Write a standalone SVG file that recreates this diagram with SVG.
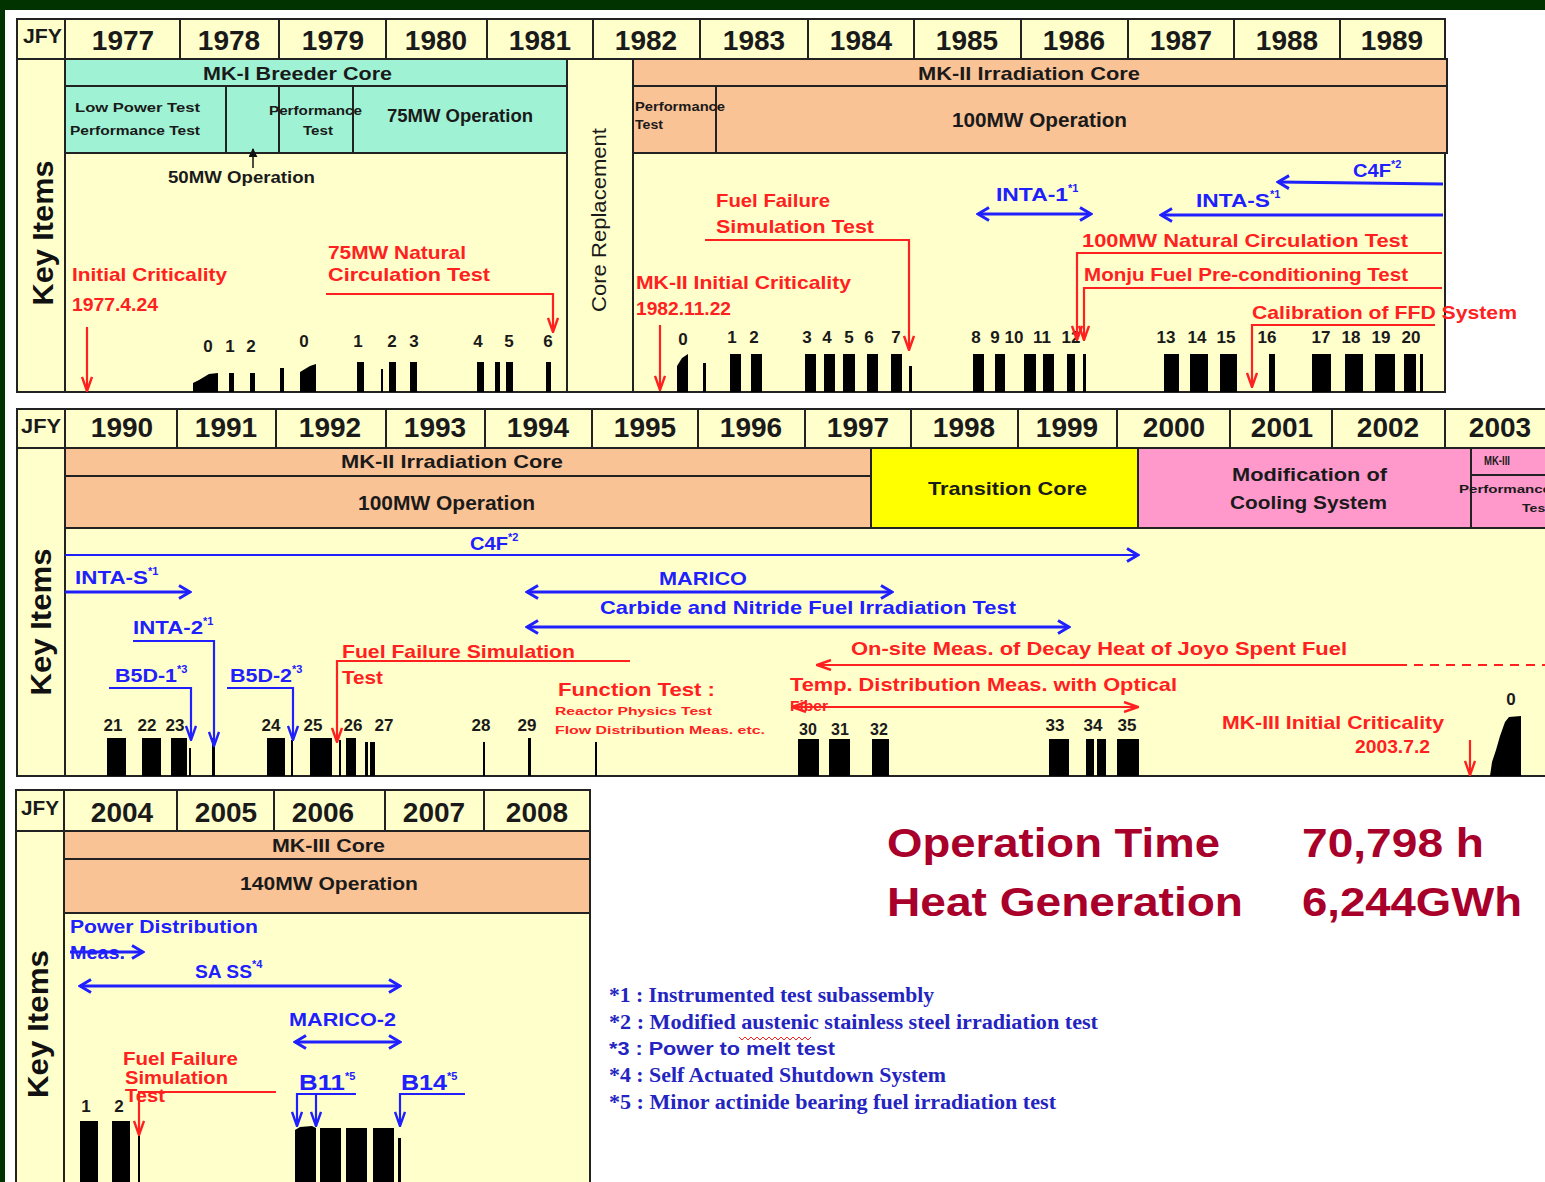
<svg xmlns="http://www.w3.org/2000/svg" width="1545" height="1182" viewBox="0 0 1545 1182">
<style>
text{font-family:"Liberation Sans",Arial,sans-serif;font-weight:bold}
.yr{font-size:28px;fill:#1a1a1a;text-anchor:middle}
.jfy{font-size:20px;fill:#1a1a1a}
.lb{font-size:19px;fill:#1a1a1a}
.sm{font-size:12px;fill:#1a1a1a}
.r{font-size:19px;fill:#ff2020}
.b{font-size:19px;fill:#2020ff}
.sup{font-size:11px}
.n{font-size:17px;fill:#1a1a1a;text-anchor:middle}
.ki{font-size:30px;fill:#111;text-anchor:middle}
.big{font-size:40px;fill:#a8002a}
.fn{font-family:"Liberation Serif","Times New Roman",serif;font-size:20px;fill:#2424c0}
.fns{font-size:19px;fill:#2424c0}
.cream{fill:#ffffcc;stroke:#222;stroke-width:2}
.cy{fill:#9ff3d4;stroke:#222;stroke-width:2}
.or{fill:#fac395;stroke:#222;stroke-width:2}
.sep{stroke:#222;stroke-width:2;fill:none}
.bar{fill:#000}
.lr{stroke:#ff2020;stroke-width:2.2;fill:none}
.lbl{stroke:#2020ff;stroke-width:3;fill:none}
.lbt{stroke:#2020ff;stroke-width:2.2;fill:none}
</style>
<defs>
<marker id="ab" viewBox="0 0 16 16" refX="14" refY="8" markerWidth="16" markerHeight="16" markerUnits="userSpaceOnUse" orient="auto-start-reverse"><path d="M3,1.5 L14,8 L3,14.5" fill="none" stroke="#2020ff" stroke-width="3"/></marker>
<marker id="abs" viewBox="0 0 16 12" refX="15" refY="6" markerWidth="16" markerHeight="12" markerUnits="userSpaceOnUse" orient="auto-start-reverse"><path d="M1,1 L15,6 L1,11" fill="none" stroke="#2020ff" stroke-width="2.4"/></marker>
<marker id="ar" viewBox="0 0 16 12" refX="15" refY="6" markerWidth="16" markerHeight="12" markerUnits="userSpaceOnUse" orient="auto-start-reverse"><path d="M1,1 L15,6 L1,11" fill="none" stroke="#ff2020" stroke-width="2.4"/></marker>
<marker id="ak" viewBox="0 0 10 10" refX="9" refY="5" markerWidth="9" markerHeight="9" markerUnits="userSpaceOnUse" orient="auto"><path d="M0,0 L10,5 L0,10 Z" fill="#111"/></marker>
</defs>

<rect x="0" y="0" width="1545" height="1182" fill="#013301"/>
<rect x="5" y="10" width="1540" height="1172" fill="#ffffff"/>

<!-- ============ PANEL 1 ============ -->
<g id="panel1">
  <rect class="cream" x="17" y="19" width="1428" height="40"/>
  <rect class="cream" x="17" y="59" width="1428" height="333"/>
  <path class="sep" d="M65,19V392 M180,19V59 M279,19V59 M386,19V59 M487,19V59 M593,19V59 M700,19V59 M808,19V59 M914,19V59 M1021,19V59 M1128,19V59 M1234,19V59 M1340,19V59"/>
  <text class="jfy" x="23" y="43" textLength="39" lengthAdjust="spacingAndGlyphs">JFY</text>
  <text class="yr" x="123" y="50">1977</text>
  <text class="yr" x="229" y="50">1978</text>
  <text class="yr" x="333" y="50">1979</text>
  <text class="yr" x="436" y="50">1980</text>
  <text class="yr" x="540" y="50">1981</text>
  <text class="yr" x="646" y="50">1982</text>
  <text class="yr" x="754" y="50">1983</text>
  <text class="yr" x="861" y="50">1984</text>
  <text class="yr" x="967" y="50">1985</text>
  <text class="yr" x="1074" y="50">1986</text>
  <text class="yr" x="1181" y="50">1987</text>
  <text class="yr" x="1287" y="50">1988</text>
  <text class="yr" x="1392" y="50">1989</text>
  <text class="ki" transform="translate(42,233) rotate(-90)" dominant-baseline="central" textLength="145" lengthAdjust="spacingAndGlyphs">Key Items</text>
</g>

<g id="mk1-core">
  <rect class="cy" x="65" y="59" width="502" height="27"/>
  <rect class="cy" x="65" y="86" width="502" height="67"/>
  <path class="sep" d="M226,86V153 M279,86V153 M353,86V153"/>
  <text class="lb" x="203" y="80" textLength="189" lengthAdjust="spacingAndGlyphs">MK-I Breeder Core</text>
  <text class="sm" x="75" y="112" textLength="125" lengthAdjust="spacingAndGlyphs">Low Power Test</text>
  <text class="sm" x="70" y="135" textLength="130" lengthAdjust="spacingAndGlyphs">Performance Test</text>
  <text class="sm" x="269" y="115" textLength="93" lengthAdjust="spacingAndGlyphs">Performance</text>
  <text class="sm" x="303" y="135" textLength="30" lengthAdjust="spacingAndGlyphs">Test</text>
  <text class="lb" x="387" y="122" style="font-size:18px" textLength="146" lengthAdjust="spacingAndGlyphs">75MW Operation</text>
</g>

<g id="core-replacement">
  <path class="sep" d="M567,59V392 M633,59V392"/>
  <text transform="translate(599,220) rotate(-90)" text-anchor="middle" dominant-baseline="central" style="font-size:20px;font-weight:normal;fill:#1a1a1a" textLength="184" lengthAdjust="spacingAndGlyphs">Core Replacement</text>
</g>

<g id="mk2-core">
  <rect class="or" x="633" y="59" width="814" height="27"/>
  <rect class="or" x="633" y="86" width="814" height="67"/>
  <path class="sep" d="M716,86V153"/>
  <text class="lb" x="918" y="80" textLength="222" lengthAdjust="spacingAndGlyphs">MK-II Irradiation Core</text>
  <text class="sm" x="635" y="111" textLength="90" lengthAdjust="spacingAndGlyphs">Performance</text>
  <text class="sm" x="635" y="129" textLength="28" lengthAdjust="spacingAndGlyphs">Test</text>
  <text class="lb" x="952" y="127" style="font-size:20px" textLength="175" lengthAdjust="spacingAndGlyphs">100MW Operation</text>
</g>

<g id="p1-labels">
  <text class="lb" x="168" y="183" style="font-size:17px" textLength="147" lengthAdjust="spacingAndGlyphs">50MW Operation</text>
  <text class="r" x="72" y="281" textLength="155" lengthAdjust="spacingAndGlyphs">Initial Criticality</text>
  <text class="r" x="72" y="311" textLength="86" lengthAdjust="spacingAndGlyphs">1977.4.24</text>
  <text class="r" x="328" y="259" textLength="138" lengthAdjust="spacingAndGlyphs">75MW Natural</text>
  <text class="r" x="328" y="281" textLength="162" lengthAdjust="spacingAndGlyphs">Circulation Test</text>
  <text class="r" x="716" y="207" textLength="114" lengthAdjust="spacingAndGlyphs">Fuel Failure</text>
  <text class="r" x="716" y="233" textLength="158" lengthAdjust="spacingAndGlyphs">Simulation Test</text>
  <text class="r" x="636" y="289" textLength="215" lengthAdjust="spacingAndGlyphs">MK-II Initial Criticality</text>
  <text class="r" x="636" y="315" textLength="95" lengthAdjust="spacingAndGlyphs">1982.11.22</text>
  <text class="r" x="1082" y="247" textLength="326" lengthAdjust="spacingAndGlyphs">100MW Natural Circulation Test</text>
  <text class="r" x="1084" y="281" textLength="324" lengthAdjust="spacingAndGlyphs">Monju Fuel Pre-conditioning Test</text>
  <text class="r" x="1252" y="319" textLength="265" lengthAdjust="spacingAndGlyphs">Calibration of FFD System</text>
  <text class="b" x="996" y="201" textLength="72" lengthAdjust="spacingAndGlyphs">INTA-1</text>
  <text class="b sup" x="1068" y="192">*1</text>
  <text class="b" x="1196" y="207" textLength="74" lengthAdjust="spacingAndGlyphs">INTA-S</text>
  <text class="b sup" x="1270" y="198">*1</text>
  <text class="b" x="1353" y="177" textLength="38" lengthAdjust="spacingAndGlyphs">C4F</text>
  <text class="b sup" x="1391" y="168">*2</text>
</g>

<g id="p1-bars">
  <polygon class="bar" points="193,392 193,383 199,380 204,377 209,374 218,373 218,392"/>
  <rect class="bar" x="229" y="373" width="5" height="19"/>
  <rect class="bar" x="250" y="373" width="5" height="19"/>
  <rect class="bar" x="280" y="368" width="4" height="24"/>
  <polygon class="bar" points="300,392 300,372 305,369 310,366 316,364 316,392"/>
  <rect class="bar" x="357" y="362" width="7" height="30"/>
  <rect class="bar" x="381" y="369" width="2" height="23"/>
  <rect class="bar" x="389" y="362" width="7" height="30"/>
  <rect class="bar" x="410" y="362" width="7" height="30"/>
  <rect class="bar" x="477" y="362" width="7" height="30"/>
  <rect class="bar" x="495" y="362" width="5" height="30"/>
  <rect class="bar" x="506" y="362" width="7" height="30"/>
  <rect class="bar" x="546" y="362" width="5" height="30"/>
  <polygon class="bar" points="677,392 677,366 682,358 688,354 688,392"/>
  <rect class="bar" x="703" y="363" width="3" height="29"/>
  <rect class="bar" x="730" y="354" width="11" height="38"/>
  <rect class="bar" x="751" y="354" width="11" height="38"/>
  <rect class="bar" x="805" y="354" width="11" height="38"/>
  <rect class="bar" x="824" y="354" width="11" height="38"/>
  <rect class="bar" x="843" y="354" width="12" height="38"/>
  <rect class="bar" x="867" y="354" width="11" height="38"/>
  <rect class="bar" x="891" y="354" width="11" height="38"/>
  <rect class="bar" x="909" y="366" width="3" height="26"/>
  <rect class="bar" x="973" y="354" width="11" height="38"/>
  <rect class="bar" x="995" y="354" width="10" height="38"/>
  <rect class="bar" x="1024" y="354" width="12" height="38"/>
  <rect class="bar" x="1043" y="354" width="11" height="38"/>
  <rect class="bar" x="1067" y="354" width="8" height="38"/>
  <rect class="bar" x="1083" y="354" width="3" height="38"/>
  <rect class="bar" x="1164" y="354" width="15" height="38"/>
  <rect class="bar" x="1190" y="354" width="18" height="38"/>
  <rect class="bar" x="1220" y="354" width="17" height="38"/>
  <rect class="bar" x="1269" y="354" width="6" height="38"/>
  <rect class="bar" x="1312" y="354" width="19" height="38"/>
  <rect class="bar" x="1345" y="354" width="18" height="38"/>
  <rect class="bar" x="1375" y="354" width="20" height="38"/>
  <rect class="bar" x="1404" y="354" width="12" height="38"/>
  <rect class="bar" x="1420" y="354" width="3" height="38"/>
  <text class="n" x="208" y="352">0</text>
  <text class="n" x="230" y="352">1</text>
  <text class="n" x="251" y="352">2</text>
  <text class="n" x="304" y="347">0</text>
  <text class="n" x="358" y="347">1</text>
  <text class="n" x="392" y="347">2</text>
  <text class="n" x="414" y="347">3</text>
  <text class="n" x="478" y="347">4</text>
  <text class="n" x="509" y="347">5</text>
  <text class="n" x="548" y="347">6</text>
  <text class="n" x="683" y="345">0</text>
  <text class="n" x="732" y="343">1</text>
  <text class="n" x="754" y="343">2</text>
  <text class="n" x="807" y="343">3</text>
  <text class="n" x="827" y="343">4</text>
  <text class="n" x="849" y="343">5</text>
  <text class="n" x="869" y="343">6</text>
  <text class="n" x="896" y="343">7</text>
  <text class="n" x="976" y="343">8</text>
  <text class="n" x="995" y="343">9</text>
  <text class="n" x="1014" y="343">10</text>
  <text class="n" x="1042" y="343">11</text>
  <text class="n" x="1071" y="343">12</text>
  <text class="n" x="1166" y="343">13</text>
  <text class="n" x="1197" y="343">14</text>
  <text class="n" x="1226" y="343">15</text>
  <text class="n" x="1267" y="343">16</text>
  <text class="n" x="1321" y="343">17</text>
  <text class="n" x="1351" y="343">18</text>
  <text class="n" x="1381" y="343">19</text>
  <text class="n" x="1411" y="343">20</text>
</g>

<!-- ============ PANEL 2 ============ -->
<g id="panel2">
  <rect class="cream" x="17" y="409" width="1540" height="39"/>
  <rect class="cream" x="17" y="448" width="1540" height="328"/>
  <path class="sep" d="M65,409V776 M177,409V448 M276,409V448 M386,409V448 M485,409V448 M592,409V448 M698,409V448 M805,409V448 M911,409V448 M1018,409V448 M1117,409V448 M1230,409V448 M1332,409V448 M1445,409V448"/>
  <text class="jfy" x="21" y="433" textLength="40" lengthAdjust="spacingAndGlyphs">JFY</text>
  <text class="yr" x="122" y="437">1990</text>
  <text class="yr" x="226" y="437">1991</text>
  <text class="yr" x="330" y="437">1992</text>
  <text class="yr" x="435" y="437">1993</text>
  <text class="yr" x="538" y="437">1994</text>
  <text class="yr" x="645" y="437">1995</text>
  <text class="yr" x="751" y="437">1996</text>
  <text class="yr" x="858" y="437">1997</text>
  <text class="yr" x="964" y="437">1998</text>
  <text class="yr" x="1067" y="437">1999</text>
  <text class="yr" x="1174" y="437">2000</text>
  <text class="yr" x="1282" y="437">2001</text>
  <text class="yr" x="1388" y="437">2002</text>
  <text class="yr" x="1500" y="437">2003</text>
  <text class="ki" transform="translate(40,622) rotate(-90)" dominant-baseline="central" textLength="147" lengthAdjust="spacingAndGlyphs">Key Items</text>
</g>

<g id="mk2-core-2">
  <rect class="or" x="65" y="448" width="806" height="28"/>
  <rect class="or" x="65" y="476" width="806" height="52"/>
  <text class="lb" x="341" y="468" textLength="222" lengthAdjust="spacingAndGlyphs">MK-II Irradiation Core</text>
  <text class="lb" x="358" y="510" style="font-size:20px" textLength="177" lengthAdjust="spacingAndGlyphs">100MW Operation</text>
</g>
<g id="transition-core">
  <rect x="871" y="448" width="267" height="80" fill="#ffff00" stroke="#222" stroke-width="2"/>
  <text class="lb" x="928" y="495" textLength="159" lengthAdjust="spacingAndGlyphs">Transition Core</text>
</g>
<g id="cooling-mod">
  <rect x="1138" y="448" width="333" height="80" fill="#ff99cc" stroke="#222" stroke-width="2"/>
  <text class="lb" x="1232" y="481" textLength="155" lengthAdjust="spacingAndGlyphs">Modification of</text>
  <text class="lb" x="1230" y="509" textLength="157" lengthAdjust="spacingAndGlyphs">Cooling System</text>
</g>
<g id="mk3-start">
  <rect x="1471" y="448" width="90" height="27" fill="#ff99cc" stroke="#222" stroke-width="2"/>
  <rect x="1471" y="475" width="90" height="53" fill="#ff99cc" stroke="#222" stroke-width="2"/>
  <text class="sm" x="1484" y="465" textLength="26" lengthAdjust="spacingAndGlyphs">MK-III</text>
  <text class="sm" x="1459" y="493" style="font-size:11px" textLength="92" lengthAdjust="spacingAndGlyphs">Performance</text>
  <text class="sm" x="1522" y="512" style="font-size:11px" textLength="28" lengthAdjust="spacingAndGlyphs">Test</text>
</g>

<g id="p2-labels">
  <text class="b" x="470" y="550" textLength="38" lengthAdjust="spacingAndGlyphs">C4F</text>
  <text class="b sup" x="508" y="541">*2</text>
  <text class="b" x="75" y="584" textLength="73" lengthAdjust="spacingAndGlyphs">INTA-S</text>
  <text class="b sup" x="148" y="575">*1</text>
  <text class="b" x="659" y="585" textLength="88" lengthAdjust="spacingAndGlyphs">MARICO</text>
  <text class="b" x="600" y="614" textLength="416" lengthAdjust="spacingAndGlyphs">Carbide and Nitride Fuel Irradiation Test</text>
  <text class="b" x="133" y="634" textLength="70" lengthAdjust="spacingAndGlyphs">INTA-2</text>
  <text class="b sup" x="203" y="625">*1</text>
  <text class="b" x="115" y="682" textLength="62" lengthAdjust="spacingAndGlyphs">B5D-1</text>
  <text class="b sup" x="177" y="673">*3</text>
  <text class="b" x="230" y="682" textLength="62" lengthAdjust="spacingAndGlyphs">B5D-2</text>
  <text class="b sup" x="292" y="673">*3</text>
  <text class="r" x="342" y="658" textLength="233" lengthAdjust="spacingAndGlyphs">Fuel Failure Simulation</text>
  <text class="r" x="342" y="684" textLength="41" lengthAdjust="spacingAndGlyphs">Test</text>
  <text class="r" x="558" y="696" textLength="157" lengthAdjust="spacingAndGlyphs">Function Test :</text>
  <text class="r" x="555" y="715" style="font-size:11px" textLength="157" lengthAdjust="spacingAndGlyphs">Reactor Physics Test</text>
  <text class="r" x="555" y="734" style="font-size:11px" textLength="210" lengthAdjust="spacingAndGlyphs">Flow Distribution Meas. etc.</text>
  <text class="r" x="851" y="655" textLength="496" lengthAdjust="spacingAndGlyphs">On-site Meas. of Decay Heat of Joyo Spent Fuel</text>
  <text class="r" x="790" y="691" textLength="387" lengthAdjust="spacingAndGlyphs">Temp. Distribution Meas. with Optical</text>
  <text class="r" x="790" y="711" style="font-size:14px" textLength="38" lengthAdjust="spacingAndGlyphs">Fiber</text>
  <text class="r" x="1222" y="729" textLength="222" lengthAdjust="spacingAndGlyphs">MK-III Initial Criticality</text>
  <text class="r" x="1355" y="753" textLength="75" lengthAdjust="spacingAndGlyphs">2003.7.2</text>
</g>

<g id="p2-bars">
  <rect class="bar" x="107" y="738" width="19" height="38"/>
  <rect class="bar" x="142" y="738" width="19" height="38"/>
  <rect class="bar" x="171" y="738" width="16" height="38"/>
  <rect class="bar" x="189" y="748" width="2" height="28"/>
  <rect class="bar" x="212" y="738" width="3" height="38"/>
  <rect class="bar" x="267" y="738" width="18" height="38"/>
  <rect class="bar" x="291" y="740" width="2" height="36"/>
  <rect class="bar" x="310" y="738" width="22" height="38"/>
  <rect class="bar" x="339" y="740" width="2" height="36"/>
  <rect class="bar" x="346" y="738" width="10" height="38"/>
  <rect class="bar" x="365" y="742" width="3" height="34"/>
  <rect class="bar" x="370" y="742" width="5" height="34"/>
  <rect class="bar" x="483" y="742" width="2" height="34"/>
  <rect class="bar" x="528" y="738" width="3" height="38"/>
  <rect class="bar" x="595" y="742" width="2" height="34"/>
  <rect class="bar" x="798" y="739" width="21" height="37"/>
  <rect class="bar" x="829" y="739" width="21" height="37"/>
  <rect class="bar" x="872" y="739" width="17" height="37"/>
  <rect class="bar" x="1049" y="739" width="20" height="37"/>
  <rect class="bar" x="1086" y="739" width="8" height="37"/>
  <rect class="bar" x="1097" y="739" width="9" height="37"/>
  <rect class="bar" x="1117" y="739" width="22" height="37"/>
  <polygon class="bar" points="1490,776 1492,762 1496,750 1500,736 1505,722 1509,717 1521,716 1521,776"/>
  <text class="n" x="113" y="731">21</text>
  <text class="n" x="147" y="731">22</text>
  <text class="n" x="175" y="731">23</text>
  <text class="n" x="271" y="731">24</text>
  <text class="n" x="313" y="731">25</text>
  <text class="n" x="353" y="731">26</text>
  <text class="n" x="384" y="731">27</text>
  <text class="n" x="481" y="731">28</text>
  <text class="n" x="527" y="731">29</text>
  <text class="n" x="808" y="735" style="font-size:16px">30</text>
  <text class="n" x="840" y="735" style="font-size:16px">31</text>
  <text class="n" x="879" y="735" style="font-size:16px">32</text>
  <text class="n" x="1055" y="731">33</text>
  <text class="n" x="1093" y="731">34</text>
  <text class="n" x="1127" y="731">35</text>
  <text class="n" x="1511" y="705">0</text>
</g>

<!-- ============ PANEL 3 ============ -->
<g id="panel3">
  <rect class="cream" x="16" y="790" width="574" height="41"/>
  <rect class="cream" x="16" y="831" width="574" height="360"/>
  <path class="sep" d="M64,790V1190 M177,790V831 M274,790V831 M385,790V831 M484,790V831"/>
  <text class="jfy" x="21" y="815" textLength="38" lengthAdjust="spacingAndGlyphs">JFY</text>
  <text class="yr" x="122" y="822">2004</text>
  <text class="yr" x="226" y="822">2005</text>
  <text class="yr" x="323" y="822">2006</text>
  <text class="yr" x="434" y="822">2007</text>
  <text class="yr" x="537" y="822">2008</text>
  <text class="ki" transform="translate(37,1024) rotate(-90)" dominant-baseline="central" textLength="148" lengthAdjust="spacingAndGlyphs">Key Items</text>
</g>
<g id="mk3-core">
  <rect class="or" x="64" y="831" width="526" height="28"/>
  <rect class="or" x="64" y="859" width="526" height="54"/>
  <text class="lb" x="272" y="852" textLength="113" lengthAdjust="spacingAndGlyphs">MK-III Core</text>
  <text class="lb" x="240" y="890" textLength="178" lengthAdjust="spacingAndGlyphs">140MW Operation</text>
</g>
<g id="p3-labels">
  <text class="b" x="70" y="933" textLength="188" lengthAdjust="spacingAndGlyphs">Power Distribution</text>
  <text class="b" x="70" y="959" textLength="55" lengthAdjust="spacingAndGlyphs">Meas.</text>
  <text class="b" x="195" y="978" textLength="57" lengthAdjust="spacingAndGlyphs">SA SS</text>
  <text class="b sup" x="252" y="968">*4</text>
  <text class="b" x="289" y="1026" textLength="107" lengthAdjust="spacingAndGlyphs">MARICO-2</text>
  <text class="r" x="123" y="1065" textLength="115" lengthAdjust="spacingAndGlyphs">Fuel Failure</text>
  <text class="r" x="125" y="1084" textLength="103" lengthAdjust="spacingAndGlyphs">Simulation</text>
  <text class="r" x="125" y="1102" textLength="40" lengthAdjust="spacingAndGlyphs">Test</text>
  <text class="b" x="299" y="1090" style="font-size:22px" textLength="46" lengthAdjust="spacingAndGlyphs">B11</text>
  <text class="b sup" x="345" y="1080">*5</text>
  <text class="b" x="401" y="1090" style="font-size:22px" textLength="46" lengthAdjust="spacingAndGlyphs">B14</text>
  <text class="b sup" x="447" y="1080">*5</text>
</g>
<g id="p3-bars">
  <rect class="bar" x="80" y="1121" width="18" height="70"/>
  <rect class="bar" x="112" y="1121" width="18" height="70"/>
  <rect class="bar" x="138" y="1130" width="2" height="61"/>
  <polygon class="bar" points="295,1191 295,1130 300,1127 312,1126 316,1128 316,1191"/>
  <rect class="bar" x="320" y="1128" width="21" height="63"/>
  <rect class="bar" x="346" y="1128" width="21" height="63"/>
  <rect class="bar" x="373" y="1128" width="21" height="63"/>
  <rect class="bar" x="398" y="1138" width="3" height="53"/>
  <text class="n" x="86" y="1112">1</text>
  <text class="n" x="119" y="1112">2</text>
</g>

<!-- ============ CONNECTORS ============ -->
<g id="connectors">
  <line x1="253" y1="168" x2="253" y2="149" stroke="#111" stroke-width="1.5" marker-end="url(#ak)"/>
  <line class="lr" x1="87" y1="327" x2="87" y2="391" marker-end="url(#ar)"/>
  <polyline class="lr" points="326,294 553,294 553,332" marker-end="url(#ar)"/>
  <polyline class="lr" points="705,240 909,240 909,350" marker-end="url(#ar)"/>
  <line class="lr" x1="660" y1="325" x2="660" y2="390" marker-end="url(#ar)"/>
  <polyline class="lr" points="1442,253 1077,253 1077,340" marker-end="url(#ar)"/>
  <polyline class="lr" points="1442,288 1084,288 1084,340" marker-end="url(#ar)"/>
  <polyline class="lr" points="1435,325 1252,325 1252,387" marker-end="url(#ar)"/>
  <line class="lbl" x1="978" y1="214" x2="1091" y2="214" marker-start="url(#ab)" marker-end="url(#ab)"/>
  <line class="lbl" x1="1443" y1="215" x2="1161" y2="215" marker-end="url(#ab)"/>
  <line class="lbl" x1="1443" y1="184" x2="1278" y2="182" marker-end="url(#ab)"/>

  <line class="lbt" x1="65" y1="555" x2="1138" y2="555" marker-end="url(#ab)"/>
  <line class="lbl" x1="65" y1="592" x2="190" y2="592" marker-end="url(#ab)"/>
  <line class="lbl" x1="527" y1="592" x2="892" y2="592" marker-start="url(#ab)" marker-end="url(#ab)"/>
  <line class="lbl" x1="527" y1="627" x2="1069" y2="627" marker-start="url(#ab)" marker-end="url(#ab)"/>
  <polyline class="lbt" points="133,641 214,641 214,746" marker-end="url(#abs)"/>
  <polyline class="lbt" points="109,688 191,688 191,740" marker-end="url(#abs)"/>
  <polyline class="lbt" points="227,688 293,688 293,740" marker-end="url(#abs)"/>
  <polyline class="lr" points="630,661 337,661 337,742" marker-end="url(#ar)"/>
  <line class="lr" x1="1398" y1="665" x2="817" y2="665" marker-end="url(#ar)"/>
  <line class="lr" x1="1398" y1="665" x2="1545" y2="665" stroke-dasharray="9,7"/>
  <line class="lr" x1="792" y1="707" x2="1138" y2="707" marker-start="url(#ar)" marker-end="url(#ar)"/>
  <line class="lr" x1="1470" y1="740" x2="1470" y2="775" marker-end="url(#ar)"/>

  <line class="lbl" x1="70" y1="952" x2="143" y2="952" marker-end="url(#ab)"/>
  <line class="lbl" x1="80" y1="986" x2="400" y2="986" marker-start="url(#ab)" marker-end="url(#ab)"/>
  <line class="lbl" x1="295" y1="1042" x2="400" y2="1042" marker-start="url(#ab)" marker-end="url(#ab)"/>
  <polyline class="lr" points="276,1092 139,1092 139,1135" marker-end="url(#ar)"/>
  <polyline class="lbt" points="356,1094 297,1094 297,1126" marker-end="url(#abs)"/>
  <line class="lbt" x1="316" y1="1094" x2="316" y2="1126" marker-end="url(#abs)"/>
  <polyline class="lbt" points="465,1094 400,1094 400,1126" marker-end="url(#abs)"/>
</g>

<!-- ============ SUMMARY & NOTES ============ -->
<g id="summary">
  <text class="big" x="887" y="857" textLength="333" lengthAdjust="spacingAndGlyphs">Operation Time</text>
  <text class="big" x="1302" y="857" textLength="182" lengthAdjust="spacingAndGlyphs">70,798 h</text>
  <text class="big" x="887" y="916" textLength="356" lengthAdjust="spacingAndGlyphs">Heat Generation</text>
  <text class="big" x="1302" y="916" textLength="220" lengthAdjust="spacingAndGlyphs">6,244GWh</text>
</g>
<g id="footnotes">
  <text class="fn" x="609" y="1002" textLength="325" lengthAdjust="spacingAndGlyphs">*1 : Instrumented test subassembly</text>
  <text class="fn" x="609" y="1029" textLength="489" lengthAdjust="spacingAndGlyphs">*2 : Modified austenic stainless steel irradiation test</text>
  <polyline points="739,1037 742,1040 745,1037 748,1040 751,1037 754,1040 757,1037 760,1040 763,1037 766,1040 769,1037 772,1040 775,1037 778,1040 781,1037 784,1040 787,1037 790,1040 793,1037 796,1040 799,1037 802,1040 805,1037 808,1040 811,1037" fill="none" stroke="#ff2020" stroke-width="1"/>
  <text class="fns" x="609" y="1055" textLength="226" lengthAdjust="spacingAndGlyphs">*3 : Power to melt test</text>
  <text class="fn" x="609" y="1082" textLength="337" lengthAdjust="spacingAndGlyphs">*4 : Self Actuated Shutdown System</text>
  <text class="fn" x="609" y="1109" textLength="447" lengthAdjust="spacingAndGlyphs">*5 : Minor actinide bearing fuel irradiation test</text>
</g>
</svg>
